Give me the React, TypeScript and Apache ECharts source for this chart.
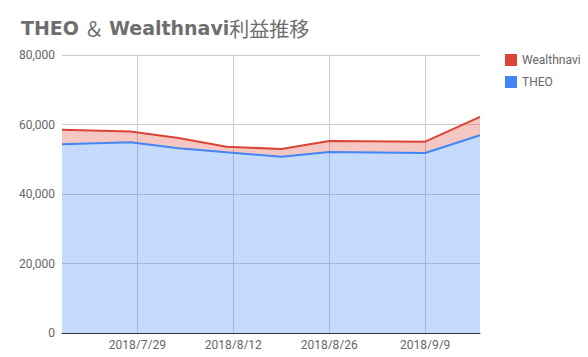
import React, { useEffect, useRef } from "react";
import * as echarts from "echarts";

const dates = ["2018-07-18", "2018-07-28", "2018-08-04", "2018-08-11", "2018-08-19", "2018-08-26", "2018-09-09", "2018-09-17"];
const theoValues = [54300, 54880, 53150, 52000, 50740, 52090, 51800, 56890];
const wealthnaviValues = [4200, 3120, 2950, 1600, 2210, 3170, 3260, 5280];
const xTickDates = ["2018-07-29", "2018-08-12", "2018-08-26", "2018-09-09"];
const xRange = ["2018-07-18", "2018-09-17"];
const yTicks = [0, 20000, 40000, 60000, 80000];

const toMs = (s: string) => {
  const [y, m, d] = s.split("-").map(Number);
  return Date.UTC(y, m - 1, d);
};
const fmtDate = (v: number) => {
  const d = new Date(v);
  return `${d.getUTCFullYear()}/${d.getUTCMonth() + 1}/${d.getUTCDate()}`;
};

export default function App() {
  const ref = useRef<HTMLDivElement>(null);
  useEffect(() => {
    if (!ref.current) return;
    const chart = echarts.init(ref.current, undefined, { renderer: "svg" });
    const tickMs = xTickDates.map(toMs);
    chart.setOption({
      animation: false,
      title: {
        left: 16,
        top: 13,
        text: "{a|THEO} {b|＆} {a|Wealthnavi}{b|利益推移}",
        textStyle: {
          rich: {
            a: { fontFamily: "DejaVu Sans", fontWeight: "bold", fontSize: 19, color: "#6e6e6e" },
            b: { fontFamily: "Noto Sans CJK JP", fontWeight: "normal", fontSize: 20, color: "#6e6e6e" },
          },
        },
      },
      legend: {
        orient: "vertical",
        left: 500,
        top: 49,
        itemWidth: 12,
        itemHeight: 12,
        itemGap: 10,
        icon: "rect",
        data: ["Wealthnavi", "THEO"],
        textStyle: { fontFamily: "Roboto", fontSize: 12, color: "#666" },
      },
      grid: { left: 62, right: 108, top: 55, bottom: 24 },
      xAxis: {
        type: "value",
        min: toMs(xRange[0]),
        max: toMs(xRange[1]),
        axisLine: { show: true, lineStyle: { color: "#333", width: 1 } },
        axisTick: { show: false, customValues: tickMs },
        axisLabel: {
          customValues: tickMs,
          formatter: (v: number) => fmtDate(v),
          fontFamily: "Roboto",
          fontSize: 12,
          color: "#666",
          margin: 6,
        },
        splitLine: { show: true, lineStyle: { color: "#ccc" } },
      },
      yAxis: {
        type: "value",
        min: yTicks[0],
        max: yTicks[yTicks.length - 1],
        interval: 20000,
        axisLine: { show: false },
        axisTick: { show: false },
        axisLabel: {
          fontFamily: "Roboto",
          fontSize: 12,
          color: "#666",
          margin: 7,
          formatter: (v: number) => v.toLocaleString("en-US"),
        },
        splitLine: { lineStyle: { color: "#ccc" } },
      },
      series: [
        {
          name: "THEO",
          type: "line",
          stack: "total",
          showSymbol: false,
          symbol: "none",
          color: "#4285f4",
          itemStyle: { color: "#4285f4" },
          lineStyle: { color: "#4285f4", width: 2 },
          areaStyle: { color: "#4285f4", opacity: 0.3 },
          encode: { x: 1, y: 0 },
          data: dates.map((d, i) => [theoValues[i], toMs(d)]),
        },
        {
          name: "Wealthnavi",
          type: "line",
          stack: "total",
          showSymbol: false,
          symbol: "none",
          color: "#db4437",
          itemStyle: { color: "#db4437" },
          lineStyle: { color: "#db4437", width: 2 },
          areaStyle: { color: "#db4437", opacity: 0.3 },
          encode: { x: 1, y: 0 },
          data: dates.map((d, i) => [wealthnaviValues[i], toMs(d)]),
        },
      ],
    });
    return () => chart.dispose();
  }, []);
  return <div ref={ref} style={{ width: 588, height: 357, margin: -8 }} />;
}
